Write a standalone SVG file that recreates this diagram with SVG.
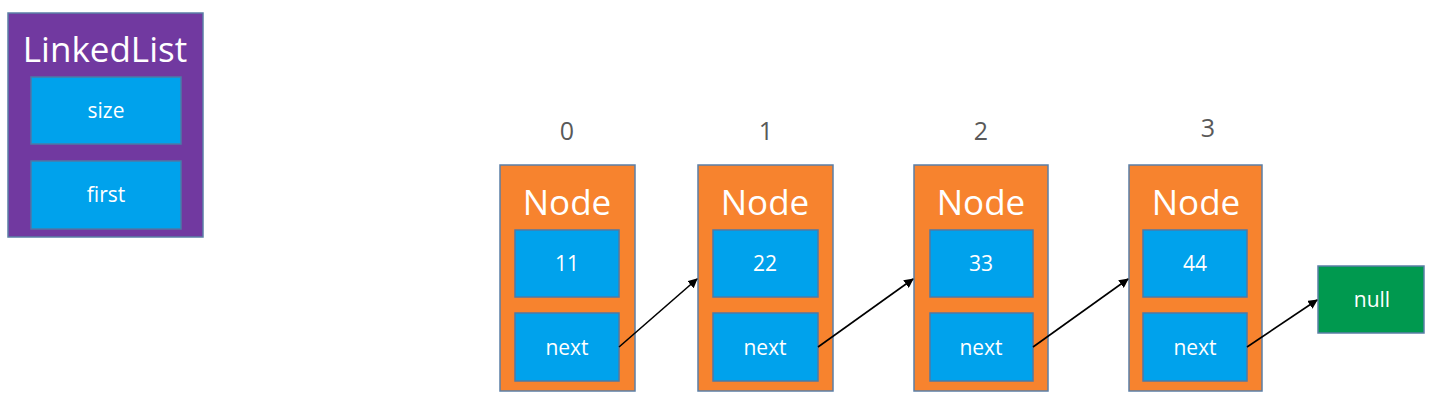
<svg xmlns="http://www.w3.org/2000/svg" width="1429" height="402" viewBox="0 0 1429 402">
<defs>
<style>
.purple{fill:#7139A0;stroke:#5B7FA6;stroke-width:1.5}
.orange{fill:#F7832E;stroke:#5B7FA6;stroke-width:1.5}
.blue{fill:#00A2EC;stroke:#4D7AA6;stroke-width:1.5}
.green{fill:#00994F;stroke:#5B7FA6;stroke-width:1.5}
.t{font-family:"Open Sans","Noto Sans",sans-serif;fill:#fff;text-anchor:middle}
.title{font-size:35px}
.f{font-size:21px}
.idx{font-family:"Open Sans","Noto Sans",sans-serif;fill:#595959;font-size:25px;text-anchor:middle}
.conn{stroke:#000;stroke-width:1.6;fill:none;marker-end:url(#ah)}
</style>
<marker id="ah" viewBox="0 0 10 10" refX="9" refY="5" markerWidth="6" markerHeight="6" orient="auto" markerUnits="strokeWidth">
<path d="M0,0 L10,5 L0,10 z" fill="#000"/>
</marker>
</defs>
<rect width="1429" height="402" fill="#fff"/>
<g id="linkedlist">
<rect class="purple" x="8" y="13" width="195" height="224"/>
<text class="t title" x="105" y="62">LinkedList</text>
<rect class="blue" x="31" y="77" width="150" height="67"/>
<text class="t f" x="106" y="118">size</text>
<rect class="blue" x="31" y="161" width="150" height="68"/>
<text class="t f" x="106" y="202">first</text>
</g>
<g id="node0">
<text class="idx" x="567" y="140">0</text>
<rect class="orange" x="500" y="165" width="135" height="226"/>
<text class="t title" x="567" y="215">Node</text>
<rect class="blue" x="515" y="230" width="104" height="67"/>
<text class="t f" x="567" y="271">11</text>
<rect class="blue" x="515" y="313" width="104" height="68"/>
<text class="t f" x="567" y="355">next</text>
</g>
<g id="node1">
<text class="idx" x="766" y="140">1</text>
<rect class="orange" x="698" y="165" width="135" height="226"/>
<text class="t title" x="765" y="215">Node</text>
<rect class="blue" x="713" y="230" width="105" height="67"/>
<text class="t f" x="765" y="271">22</text>
<rect class="blue" x="713" y="313" width="105" height="68"/>
<text class="t f" x="765" y="355">next</text>
</g>
<g id="node2">
<text class="idx" x="981" y="140">2</text>
<rect class="orange" x="914" y="165" width="134" height="226"/>
<text class="t title" x="981" y="215">Node</text>
<rect class="blue" x="930" y="230" width="103" height="67"/>
<text class="t f" x="981" y="271">33</text>
<rect class="blue" x="930" y="313" width="103" height="68"/>
<text class="t f" x="981" y="355">next</text>
</g>
<g id="node3">
<text class="idx" x="1208" y="137">3</text>
<rect class="orange" x="1129" y="165" width="133" height="226"/>
<text class="t title" x="1196" y="215">Node</text>
<rect class="blue" x="1143" y="230" width="104" height="67"/>
<text class="t f" x="1195" y="271">44</text>
<rect class="blue" x="1143" y="313" width="104" height="68"/>
<text class="t f" x="1195" y="355">next</text>
</g>
<g id="null">
<rect class="green" x="1318" y="266" width="106" height="67"/>
<text class="t f" x="1372" y="307">null</text>
</g>
<g id="connectors">
<line class="conn" x1="619" y1="347" x2="697" y2="279"/>
<line class="conn" x1="818" y1="347" x2="913" y2="279"/>
<line class="conn" x1="1033" y1="347" x2="1128" y2="279"/>
<line class="conn" x1="1247" y1="347" x2="1317" y2="300"/>
</g>
</svg>
